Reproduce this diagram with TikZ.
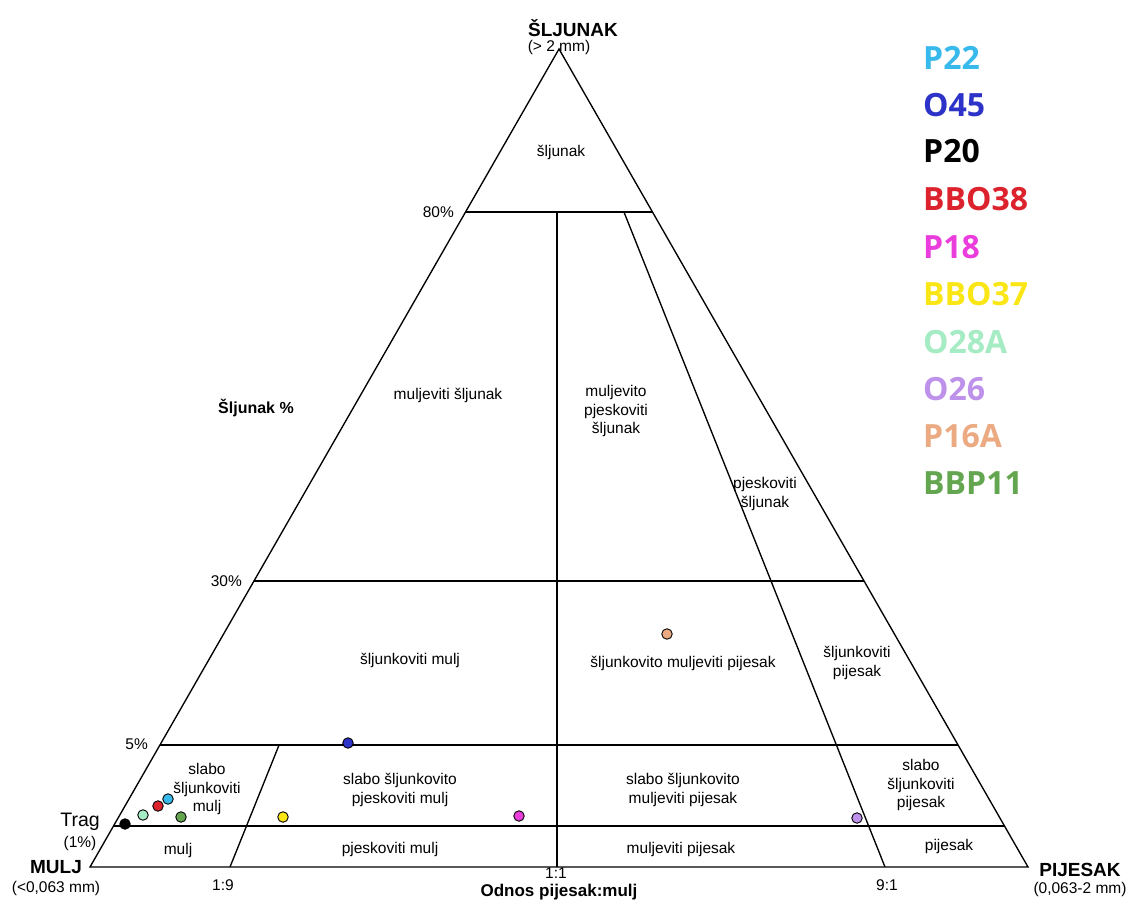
\documentclass[tikz,border=0pt]{standalone}
\usepackage{fontspec}
\setmainfont{Liberation Sans}
\newfontfamily\legendfont{Open Sans}
\usepackage{tikz}
\usetikzlibrary{calc}
\definecolor{cP22}{RGB}{55,185,235}
\definecolor{cO45}{RGB}{45,50,200}
\definecolor{cP20}{RGB}{0,0,0}
\definecolor{cBBO38}{RGB}{220,35,45}
\definecolor{cP18}{RGB}{235,60,220}
\definecolor{cBBO37}{RGB}{250,230,20}
\definecolor{cO28A}{RGB}{165,235,195}
\definecolor{cO26}{RGB}{190,145,235}
\definecolor{cP16A}{RGB}{235,170,130}
\definecolor{cBBP11}{RGB}{100,165,80}

\begin{document}
\begin{tikzpicture}[x=1pt, y=-1pt, font=\fontsize{15.5}{18.5}\selectfont,
		zone/.style={align=center, inner sep=0pt},
		granica/.style={line width=1.35pt},
		vrh/.style={font=\bfseries\fontsize{19}{20}\selectfont, inner sep=0pt},
		uzorak/.style={circle, draw=black, line width=0.9pt, inner sep=0pt, minimum size=10.5pt, fill=#1},
		legenda/.style={anchor=west, inner sep=0pt, text=#1, font=\legendfont\bfseries\fontsize{32}{34}\selectfont}]
				\useasboundingbox (0,0) rectangle (1131,899);
				% Vrhovi trokuta
				\coordinate (sljunak) at (559,49);
				\coordinate (mulj) at (90,867);
				\coordinate (pijesak) at (1028,867);
				% Oznake vrhova
				\node[vrh] (tSljunak) at (573,28) {ŠLJUNAK};
				\node[inner sep=0pt] (tSljunakmm) at (559,47) {(> 2 mm)};
				\node[vrh] (tMulj) at (56,867) {MULJ};
				\node[inner sep=0pt] (tMuljmm) at (56,888) {(<0,063 mm)};
				\node[vrh] (tPijesak) at (1080,870) {PIJESAK};
				\node[inner sep=0pt] (tPijesakmm) at (1080,889) {(0,063-2 mm)};
				% Trokut
				\draw[granica] (sljunak) -- (mulj) -- (pijesak) -- cycle;
				% Vodoravne granice
				\foreach \ime/\f in {g80/0.8007, g30/0.3496, g5/0.1491, gT/0.0501} {
					\coordinate (\ime-l) at ($(mulj)!\f!(sljunak)$);
					\coordinate (\ime-d) at ($(pijesak)!\f!(sljunak)$);
					\draw[granica] (\ime-l) -- (\ime-d);
				}
				% Granice omjera pijesak:mulj
				\coordinate (o19) at (230,867);
				\coordinate (o11) at (557,867);
				\coordinate (o91) at (885,867);
				\draw[granica] (o19) -- ($(o19)!0.1491!(sljunak)$);
				\draw[granica] (o11) -- (o11 |- g80-l);
				\draw[granica] (o91) -- ($(o91)!0.8007!(sljunak)$);
				% Oznake osi
				\node[anchor=east, inner sep=0pt] (p80) at (454,212) {80\%};
				\node[anchor=east, inner sep=0pt] (p30) at (242,581) {30\%};
				\node[anchor=east, inner sep=0pt] (p5) at (148,744) {5\%};
				\node[inner sep=0pt, font=\fontsize{19.5}{20}\selectfont] (trag) at (80,822) {Trag};
				\node[inner sep=0pt] (trag1) at (80,843) {(1\%)};
				\node[inner sep=0pt, font=\bfseries\fontsize{16}{18}\selectfont] (osS) at (256,408) {Šljunak \%};
				\node[inner sep=0pt] (r19) at (223,885) {1:9};
				\node[inner sep=0pt] (r11) at (556,873) {1:1};
				\node[inner sep=0pt] (r91) at (887,885) {9:1};
				\node[inner sep=0pt, font=\bfseries\fontsize{17}{18}\selectfont] (odnos) at (559,892) {Odnos pijesak:mulj};
				% Nazivi polja
				\node[zone] (zS) at (561,152) {šljunak};
				\node[zone] (zMS) at (448,395) {muljeviti šljunak};
				\node[zone] (zMPS) at (616,411) {muljevito\\pjeskoviti\\šljunak};
				\node[zone] (zPS) at (765,494) {pjeskoviti\\šljunak};
				\node[zone] (zSM) at (410,660) {šljunkoviti mulj};
				\node[zone] (zSMP) at (683,663) {šljunkovito muljeviti pijesak};
				\node[zone] (zSP) at (857,663) {šljunkoviti\\pijesak};
				\node[zone] (zSSM) at (207,789) {slabo\\šljunkoviti\\mulj};
				\node[zone] (zSSPM) at (400,790) {slabo šljunkovito\\pjeskoviti mulj};
				\node[zone] (zSSMP) at (683,790) {slabo šljunkovito\\muljeviti pijesak};
				\node[zone] (zSSP) at (921,785) {slabo\\šljunkoviti\\pijesak};
				\node[zone] (zM) at (178,850) {mulj};
				\node[zone] (zPM) at (390,849) {pjeskoviti mulj};
				\node[zone] (zMP) at (681,849) {muljeviti pijesak};
				\node[zone] (zP) at (949,846) {pijesak};
				% Uzorci
				\node[uzorak=cP20] (sP20) at (125,824) {};
				\node[uzorak=cO28A] (sO28A) at (143,815) {};
				\node[uzorak=cBBO38] (sBBO38) at (158,806) {};
				\node[uzorak=cP22] (sP22) at (168,799) {};
				\node[uzorak=cBBP11] (sBBP11) at (181,817) {};
				\node[uzorak=cBBO37] (sBBO37) at (283,817) {};
				\node[uzorak=cO45] (sO45) at (348,743) {};
				\node[uzorak=cP18] (sP18) at (519,816) {};
				\node[uzorak=cO26] (sO26) at (857,818) {};
				\node[uzorak=cP16A] (sP16A) at (667,634) {};
				% Legenda
				\foreach \ime/\y in {P22/58, O45/105, P20/151, BBO38/199, P18/247, BBO37/294, O28A/342, O26/389, P16A/436, BBP11/483}
					\node[legenda=c\ime] (l\ime) at (923,\y) {\ime};
		\end{tikzpicture}
\end{document}
